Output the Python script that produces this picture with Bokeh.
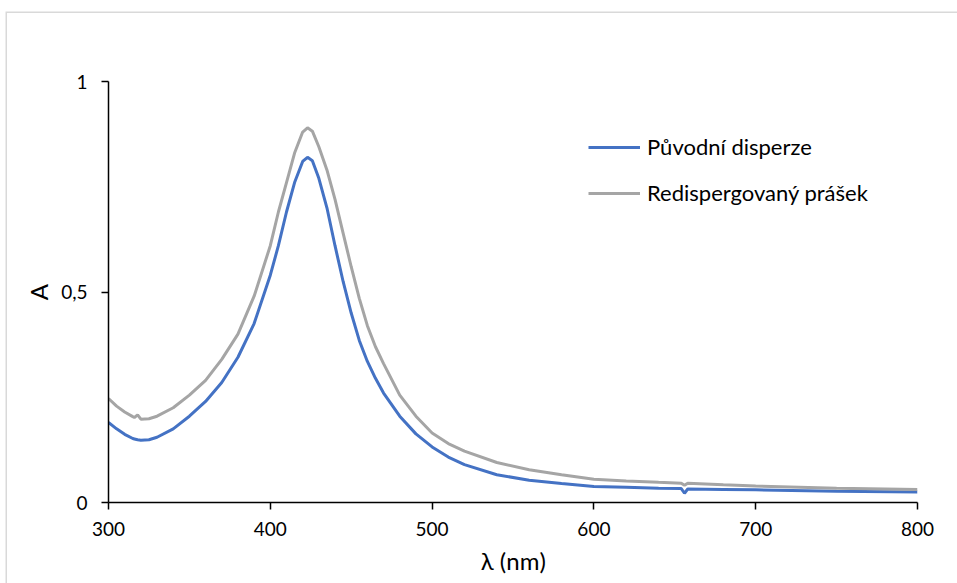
from bokeh.plotting import figure
from bokeh.models import Range1d, FixedTicker, Legend, LegendItem
from bokeh.embed import file_html
from bokeh.resources import INLINE

# ---- data ----
wavelength = [300, 305, 310, 315, 316, 318, 320, 325, 330, 340, 350, 360, 370, 380, 390,
              400, 405, 410, 415, 420, 423, 426, 430, 435, 440, 445, 450, 455, 460, 465,
              470, 480, 490, 500, 510, 520, 540, 560, 580, 600, 620, 640, 654, 656, 658,
              680, 700, 750, 800]
puvodni = [0.190, 0.175, 0.162, 0.152, 0.151, 0.149, 0.148, 0.149, 0.155, 0.175, 0.205, 0.240,
           0.285, 0.345, 0.425, 0.540, 0.610, 0.690, 0.760, 0.810, 0.820, 0.812, 0.770, 0.700,
           0.610, 0.525, 0.450, 0.385, 0.335, 0.295, 0.260, 0.205, 0.163, 0.132, 0.108, 0.090,
           0.066, 0.053, 0.045, 0.038, 0.036, 0.034, 0.033, 0.022, 0.032, 0.031, 0.030, 0.027,
           0.025]
redisp = [0.247, 0.229, 0.215, 0.204, 0.202, 0.208, 0.198, 0.199, 0.205, 0.225, 0.255, 0.290,
          0.340, 0.400, 0.490, 0.610, 0.690, 0.760, 0.830, 0.880, 0.890, 0.882, 0.845, 0.790,
          0.720, 0.640, 0.560, 0.485, 0.420, 0.370, 0.330, 0.255, 0.205, 0.165, 0.140, 0.122,
          0.095, 0.078, 0.066, 0.055, 0.051, 0.048, 0.046, 0.041, 0.046, 0.042, 0.039, 0.034,
          0.031]
series_names = ["Původní disperze", "Redispergovaný prášek"]
x_ticks = [300, 400, 500, 600, 700, 800]
y_ticks = [0, 0.5, 1]
y_tick_labels = {0: "0", 0.5: "0,5", 1: "1"}

FONT = "Lato"

p = figure(width=950, height=570, output_backend="svg", toolbar_location=None,
           x_range=Range1d(300, 800), y_range=Range1d(0, 1),
           min_border_left=101, min_border_right=40, min_border_top=68, min_border_bottom=81,
           margin=(13, 0, 0, 7))
p.styles = {"box-shadow": "0 0 0 1.5px #d9d9d9"}
p.outline_line_color = None
p.xgrid.grid_line_color = None
p.ygrid.grid_line_color = None
p.background_fill_color = "white"
p.border_fill_color = "white"

l1 = p.line(wavelength, puvodni, line_color="#4472C4", line_width=3)
l2 = p.line(wavelength, redisp, line_color="#A5A5A5", line_width=3)

for ax in (p.xaxis[0], p.yaxis[0]):
    ax.axis_line_color = "black"
    ax.axis_line_width = 1.5
    ax.major_tick_line_color = "black"
    ax.major_tick_line_width = 1.5
    ax.major_tick_in = 0
    ax.major_tick_out = 7
    ax.minor_tick_line_color = None
    ax.major_label_text_font = FONT
    ax.major_label_text_font_size = "19px"
    ax.major_label_text_color = "black"
    ax.axis_label_text_font = FONT
    ax.axis_label_text_font_size = "24px"
    ax.axis_label_text_font_style = "normal"
    ax.axis_label_text_color = "black"

p.xaxis.ticker = FixedTicker(ticks=x_ticks)
p.yaxis.ticker = FixedTicker(ticks=y_ticks)
p.yaxis.major_label_overrides = y_tick_labels
p.xaxis.axis_label = "λ (nm)"
p.yaxis.axis_label = "A"
p.xaxis.major_label_standoff = 12
p.yaxis.major_label_standoff = 14
p.xaxis.axis_label_standoff = 7
p.yaxis.axis_label_standoff = 5

legend = Legend(items=[LegendItem(label=series_names[0], renderers=[l1]),
                       LegendItem(label=series_names[1], renderers=[l2])],
                location=(480, 296), orientation="vertical")
legend.border_line_color = None
legend.background_fill_alpha = 0
legend.padding = 0
legend.margin = 0
legend.spacing = 19
legend.glyph_width = 52
legend.glyph_height = 22
legend.label_height = 22
legend.label_standoff = 7
legend.label_text_font = FONT
legend.label_text_font_size = "22px"
legend.label_text_color = "black"
p.add_layout(legend)

open("out.html", "w").write(file_html(p, INLINE))
